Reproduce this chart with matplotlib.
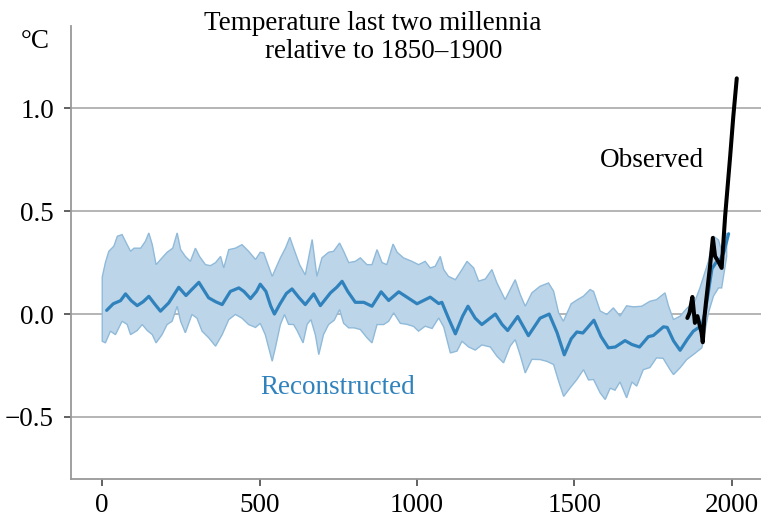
import numpy as np
import matplotlib
matplotlib.use("Agg")
import matplotlib.pyplot as plt

# Reconstructed mean (year, degC)
recon_years = [14, 35, 58, 74, 92, 111, 130, 148, 166, 185, 211, 243, 266, 285, 307,
               338, 360, 381, 407, 434, 450, 471, 490, 502, 520, 535, 547, 565, 585,
               603, 625, 645, 672, 693, 725, 745, 762, 780, 804, 831, 857, 886, 910,
               942, 970, 1000, 1042, 1069, 1079, 1100, 1122, 1145, 1162, 1185, 1206,
               1249, 1270, 1288, 1320, 1354, 1391, 1420, 1445, 1468, 1490, 1508, 1527,
               1562, 1585, 1608, 1630, 1661, 1683, 1707, 1735, 1751, 1783, 1795, 1815,
               1836, 1860, 1878, 1905, 1915, 1925, 1937, 1950, 1963, 1975, 1990]
recon_mean = [0.018, 0.05, 0.065, 0.098, 0.065, 0.041, 0.06, 0.086, 0.05, 0.014, 0.054,
              0.13, 0.09, 0.12, 0.154, 0.079, 0.06, 0.046, 0.11, 0.127, 0.11, 0.075, 0.11,
              0.145, 0.11, 0.04, 0.0, 0.05, 0.1, 0.122, 0.08, 0.046, 0.098, 0.041, 0.103,
              0.13, 0.159, 0.11, 0.057, 0.057, 0.038, 0.108, 0.066, 0.108, 0.08, 0.05,
              0.082, 0.051, 0.057, -0.02, -0.096, -0.01, 0.038, -0.02, -0.051, 0.0, -0.05,
              -0.08, -0.012, -0.105, -0.02, 0.0, -0.09, -0.198, -0.12, -0.087, -0.092,
              -0.03, -0.11, -0.164, -0.16, -0.129, -0.148, -0.16, -0.11, -0.104, -0.062,
              -0.065, -0.13, -0.176, -0.12, -0.083, -0.055, 0.006, 0.1, 0.22, 0.25, 0.264,
              0.3, 0.39]

# Uncertainty band, upper edge
upper_years = [0, 10, 21, 37, 48, 63, 79, 90, 101, 122, 137, 148, 159, 171, 190, 206,
               224, 238, 249, 264, 280, 296, 309, 328, 344, 360, 376, 386, 402, 423, 444,
               465, 487, 502, 513, 540, 566, 582, 596, 608, 627, 645, 667, 682, 698, 719,
               735, 754, 767, 783, 804, 820, 841, 857, 873, 889, 904, 924, 937, 957, 984,
               1005, 1026, 1042, 1058, 1074, 1085, 1100, 1122, 1143, 1159, 1180, 1196,
               1217, 1238, 1254, 1280, 1296, 1312, 1328, 1344, 1365, 1391, 1418, 1434,
               1450, 1465, 1490, 1510, 1529, 1550, 1561, 1582, 1603, 1624, 1645, 1666,
               1688, 1714, 1740, 1761, 1788, 1799, 1815, 1836, 1857, 1883, 1899, 1926,
               1942, 1958, 1968, 1984]
upper_vals = [0.18, 0.25, 0.305, 0.33, 0.378, 0.386, 0.337, 0.305, 0.32, 0.32, 0.353,
              0.394, 0.337, 0.24, 0.273, 0.30, 0.32, 0.394, 0.313, 0.28, 0.256, 0.32, 0.28,
              0.24, 0.235, 0.25, 0.28, 0.224, 0.313, 0.32, 0.337, 0.305, 0.265, 0.3, 0.297,
              0.183, 0.273, 0.32, 0.373, 0.32, 0.24, 0.19, 0.362, 0.183, 0.273, 0.30, 0.305,
              0.345, 0.305, 0.25, 0.256, 0.273, 0.24, 0.24, 0.313, 0.25, 0.24, 0.34, 0.30,
              0.273, 0.256, 0.24, 0.256, 0.224, 0.232, 0.28, 0.216, 0.183, 0.167, 0.216,
              0.256, 0.224, 0.16, 0.17, 0.216, 0.151, 0.07, 0.119, 0.167, 0.095, 0.038,
              0.103, 0.135, 0.151, 0.111, 0.006, -0.035, 0.05, 0.07, 0.087, 0.119, 0.11,
              0.015, -0.002, 0.03, -0.01, 0.04, 0.035, 0.038, 0.062, 0.07, 0.103, 0.04,
              -0.027, -0.01, 0.027, 0.062, 0.127, 0.256, 0.378, 0.36, 0.305, 0.394]

# Uncertainty band, lower edge
lower_years = [0, 10, 26, 42, 63, 79, 90, 111, 127, 143, 159, 171, 190, 206, 222, 238,
               249, 264, 285, 301, 317, 338, 360, 381, 402, 423, 444, 465, 487, 502, 518,
               540, 550, 566, 579, 592, 608, 619, 638, 651, 663, 677, 688, 703, 719, 737,
               754, 767, 783, 800, 820, 841, 857, 873, 894, 910, 926, 947, 968, 989, 1005,
               1026, 1048, 1069, 1085, 1106, 1127, 1143, 1164, 1185, 1206, 1233, 1254,
               1275, 1296, 1312, 1328, 1344, 1365, 1391, 1413, 1434, 1450, 1466, 1487,
               1508, 1529, 1545, 1561, 1582, 1598, 1614, 1629, 1645, 1666, 1683, 1698,
               1719, 1740, 1761, 1782, 1804, 1815, 1836, 1857, 1878, 1905, 1926, 1942,
               1958, 1968, 1984]
lower_vals = [-0.132, -0.14, -0.083, -0.1, -0.035, -0.05, -0.1, -0.08, -0.051, -0.08,
              -0.1, -0.14, -0.1, -0.051, -0.035, 0.038, -0.035, -0.091, -0.002, -0.02,
              -0.083, -0.115, -0.156, -0.1, -0.027, -0.002, -0.02, -0.051, -0.065, -0.045,
              -0.1, -0.229, -0.164, -0.051, -0.002, -0.05, -0.051, -0.08, -0.14, -0.05,
              -0.027, -0.1, -0.197, -0.1, -0.051, -0.03, 0.022, -0.045, -0.067, -0.067,
              -0.075, -0.115, -0.14, -0.051, -0.051, -0.035, 0.006, -0.045, -0.05, -0.06,
              -0.083, -0.059, -0.07, -0.019, -0.063, -0.189, -0.18, -0.132, -0.16, -0.175,
              -0.15, -0.16, -0.205, -0.237, -0.156, -0.124, -0.2, -0.286, -0.22, -0.221,
              -0.23, -0.245, -0.326, -0.4, -0.358, -0.318, -0.27, -0.32, -0.318, -0.383,
              -0.415, -0.36, -0.37, -0.33, -0.407, -0.33, -0.35, -0.27, -0.26, -0.213,
              -0.215, -0.27, -0.294, -0.261, -0.221, -0.197, -0.164, 0.006, 0.087, 0.127,
              0.127, 0.28]

# Observed record
obs_years = [1859, 1866, 1871, 1875, 1879, 1883, 1891, 1899, 1904, 1908, 1913, 1918,
             1931, 1940, 1947, 1957, 1968, 1979, 1995, 2005, 2016]
obs_vals = [-0.019, 0.007, 0.05, 0.083, 0.02, -0.043, -0.01, -0.059, -0.09, -0.137,
            -0.02, 0.054, 0.232, 0.37, 0.281, 0.256, 0.224, 0.475, 0.766, 0.96, 1.145]

yticks = [-0.5, 0.0, 0.5, 1.0]
xticks = [0, 500, 1000, 1500, 2000]

plt.rcParams['font.family'] = ['Liberation Serif', 'DejaVu Serif']
fs = 19.5

fig = plt.figure(figsize=(7.61, 5.17), dpi=100)
ax = fig.add_axes([0.093, 0.074, 0.907, 0.876])

blue = '#3082bd'
for y in yticks:
    ax.axhline(y, color='#b4b4b4', lw=1.4, zorder=0)

# band outline: upper edge then lower edge backwards
band_x = np.concatenate([upper_years, lower_years[::-1]])
band_y = np.concatenate([upper_vals, lower_vals[::-1]])
ax.fill(band_x, band_y, facecolor='#bdd5e8', edgecolor='#8fbada', lw=1.0, zorder=1)
ax.plot(recon_years, recon_mean, color=blue, lw=2.3, zorder=2, solid_capstyle='round')
ax.plot(obs_years, obs_vals, color='black', lw=2.9, zorder=3, solid_capstyle='round')

ax.set_xlim(-100, 2093)
ax.set_ylim(-0.8, 1.4)
ax.set_yticks(yticks)
ax.set_yticklabels(['\u22120.5', '0.0', '0.5', '1.0'])
ax.set_xticks(xticks)

for s in ['top', 'right']:
    ax.spines[s].set_visible(False)
for s in ['left', 'bottom']:
    ax.spines[s].set_color('#999999')
    ax.spines[s].set_linewidth(1.3)
ax.tick_params(axis='both', color='#555555', width=1.3, length=5, labelsize=fs)
ax.tick_params(axis='y', pad=7)
ax.tick_params(axis='x', pad=5)

ax.text(1747, 0.745, 'Observed', ha='center', va='center', fontsize=fs, color='black')
ax.text(747, -0.357, 'Reconstructed', ha='center', va='center', fontsize=fs, color=blue)

fig.text(373 / 761, 1 - 29.5 / 517, 'Temperature last two millennia', ha='center',
         va='baseline', fontsize=fs)
fig.text(384 / 761, 1 - 58 / 517, 'relative to 1850\u20131900', ha='center',
         va='baseline', fontsize=fs)
fig.text(35 / 761, 1 - 48 / 517, '\u00b0C', ha='center', va='baseline', fontsize=fs)

fig.savefig('out.png', dpi=100)
